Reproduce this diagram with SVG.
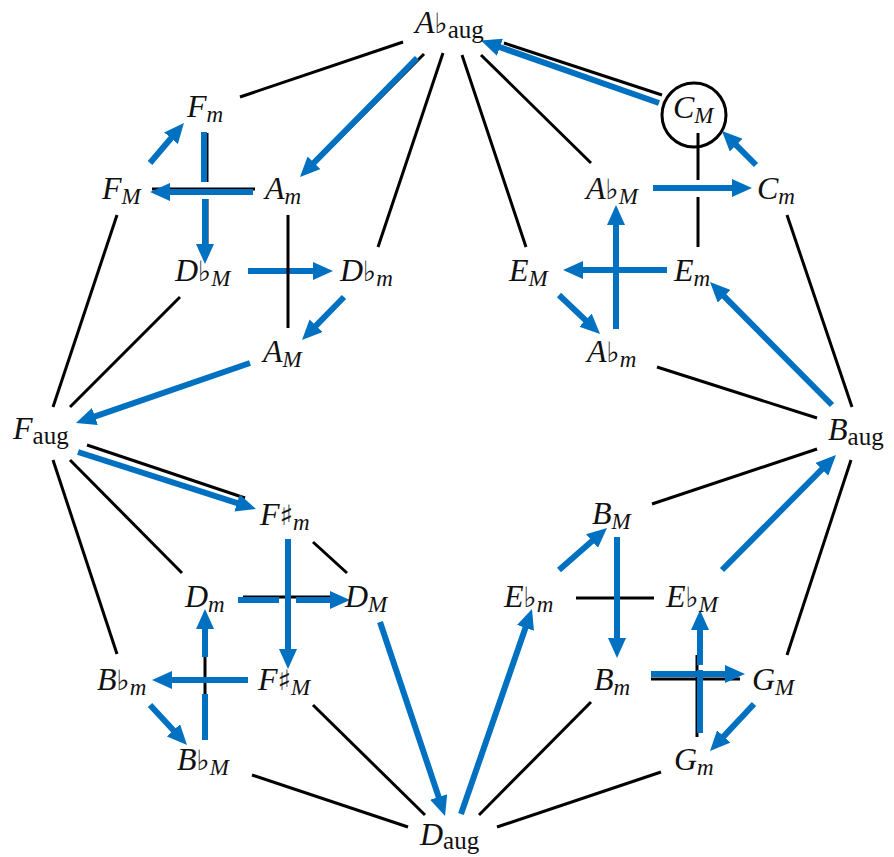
<svg xmlns="http://www.w3.org/2000/svg" width="894" height="857" viewBox="0 0 894 857">
<style>
.e{stroke:#000;stroke-width:3;fill:none}
.a{stroke:#0070C0;stroke-width:6;fill:none}
.lbl{font-family:"Liberation Serif","DejaVu Serif",serif;font-size:32px;fill:#111}
.i{font-style:italic}
.fl{font-family:"DejaVu Sans",sans-serif;font-size:28px;font-style:normal}
.s{font-style:italic;font-size:23px}
.r{font-style:normal;font-size:25px}
.ring{fill:none;stroke:#000;stroke-width:3}
</style>
<defs>
<marker id="ah" viewBox="0 0 20 18" refX="2" refY="9" markerWidth="20" markerHeight="18" markerUnits="userSpaceOnUse" orient="auto"><path d="M0,0 L20,9 L0,18 z" fill="#0070C0"/></marker>
</defs>
<rect width="894" height="857" fill="#fff"/>
<g id="connectors">
<line class="e" x1="240" y1="97" x2="403" y2="42"/>
<line class="e" x1="424" y1="54" x2="306" y2="172"/>
<line class="e" x1="443" y1="53" x2="378" y2="247"/>
<line class="e" x1="462" y1="55" x2="526" y2="247"/>
<line class="e" x1="481" y1="55" x2="591" y2="163"/>
<line class="e" x1="504" y1="43" x2="662" y2="95"/>
<line class="e" x1="53" y1="407" x2="117" y2="215"/>
<line class="e" x1="70" y1="407" x2="180" y2="297"/>
<line class="e" x1="87" y1="445" x2="245" y2="498"/>
<line class="e" x1="70" y1="460" x2="182" y2="573"/>
<line class="e" x1="53" y1="460" x2="117" y2="654"/>
<line class="e" x1="252" y1="775" x2="408" y2="827"/>
<line class="e" x1="313" y1="705" x2="425" y2="815"/>
<line class="e" x1="591" y1="702" x2="479" y2="815"/>
<line class="e" x1="661" y1="772" x2="497" y2="827"/>
<line class="e" x1="787" y1="215" x2="852" y2="407"/>
<line class="e" x1="657" y1="367" x2="817" y2="418"/>
<line class="e" x1="652" y1="504" x2="817" y2="449"/>
<line class="e" x1="851" y1="460" x2="787" y2="655"/>
<line class="e" x1="207" y1="133" x2="207" y2="182"/>
<line class="e" x1="207" y1="199" x2="207" y2="250"/>
<line class="e" x1="152" y1="189" x2="255" y2="189"/>
<line class="e" x1="698" y1="133" x2="698" y2="180"/>
<line class="e" x1="698" y1="197" x2="698" y2="247"/>
<line class="e" x1="313" y1="542" x2="347" y2="573"/>
<line class="e" x1="243" y1="597" x2="333" y2="597"/>
<line class="e" x1="205" y1="655" x2="205" y2="696"/>
<line class="e" x1="576" y1="598" x2="654" y2="598"/>
<line class="e" x1="651" y1="679" x2="740" y2="679"/>
<line class="e" x1="697" y1="655" x2="697" y2="737"/>

<line class="a" x1="417" y1="58" x2="312.6" y2="164.2" marker-end="url(#ah)"/>
<line class="a" x1="150" y1="163" x2="172.3" y2="136.7" marker-end="url(#ah)"/>
<line class="a" x1="204" y1="132" x2="204" y2="182"/>
<line class="a" x1="205" y1="199" x2="205" y2="246" marker-end="url(#ah)"/>
<line class="a" x1="253" y1="192" x2="168" y2="192" marker-end="url(#ah)"/>
<line class="a" x1="248" y1="271" x2="315" y2="271" marker-end="url(#ah)"/>
<line class="e" x1="288" y1="215" x2="288" y2="328"/>
<line class="a" x1="344" y1="297" x2="314.6" y2="327.1" marker-end="url(#ah)"/>
<line class="a" x1="250" y1="363" x2="93" y2="417.1" marker-end="url(#ah)"/>

<line class="a" x1="659" y1="103" x2="498" y2="46.5" marker-end="url(#ah)"/>
<line class="a" x1="653" y1="188" x2="734" y2="188" marker-end="url(#ah)"/>
<line class="a" x1="756" y1="165" x2="734.7" y2="143.7" marker-end="url(#ah)"/>
<line class="a" x1="667" y1="270" x2="581" y2="270" marker-end="url(#ah)"/>
<line class="a" x1="616" y1="329" x2="616" y2="223" marker-end="url(#ah)"/>
<line class="a" x1="559" y1="295" x2="587" y2="321.6" marker-end="url(#ah)"/>
<line class="a" x1="832" y1="405" x2="722.7" y2="294.8" marker-end="url(#ah)"/>

<line class="a" x1="78" y1="452" x2="238.9" y2="503.6" marker-end="url(#ah)"/>
<line class="a" x1="238" y1="600" x2="279" y2="600"/>
<line class="a" x1="296" y1="600" x2="332" y2="600" marker-end="url(#ah)"/>
<line class="a" x1="288" y1="539" x2="288" y2="651" marker-end="url(#ah)"/>
<line class="a" x1="205" y1="740" x2="205" y2="694"/>
<line class="a" x1="205" y1="657" x2="205" y2="627" marker-end="url(#ah)"/>
<line class="a" x1="248" y1="680" x2="170" y2="680" marker-end="url(#ah)"/>
<line class="a" x1="150" y1="705" x2="174.8" y2="731.8" marker-end="url(#ah)"/>
<line class="a" x1="380" y1="622" x2="439.3" y2="798.9" marker-end="url(#ah)"/>

<line class="a" x1="461" y1="814" x2="526.1" y2="626" marker-end="url(#ah)"/>
<line class="a" x1="559" y1="570" x2="593.5" y2="539.8" marker-end="url(#ah)"/>
<line class="a" x1="617" y1="537" x2="617" y2="640" marker-end="url(#ah)"/>
<line class="a" x1="722" y1="570" x2="823.3" y2="467.8" marker-end="url(#ah)"/>
<line class="a" x1="700" y1="733" x2="700" y2="670"/>
<line class="a" x1="700" y1="665" x2="700" y2="628" marker-end="url(#ah)"/>
<line class="a" x1="651" y1="674" x2="727" y2="674" marker-end="url(#ah)"/>
<line class="a" x1="754" y1="704" x2="722.3" y2="737.9" marker-end="url(#ah)"/>
</g>

<g id="n-Ab-aug"><text class="lbl" x="415" y="33"><tspan class="i">A</tspan><tspan class="fl">♭</tspan><tspan class="r" dy="5">aug</tspan></text></g>
<g id="n-C-M"><circle class="ring" cx="694" cy="115" r="32"/><text class="lbl" x="673" y="118"><tspan class="i">C</tspan><tspan class="s" dy="5">M</tspan></text></g>
<g id="n-F-m"><text class="lbl" x="187" y="117"><tspan class="i">F</tspan><tspan class="s" dy="5">m</tspan></text></g>
<g id="n-F-M"><text class="lbl" x="102" y="199"><tspan class="i">F</tspan><tspan class="s" dy="5">M</tspan></text></g>
<g id="n-A-m"><text class="lbl" x="265" y="199"><tspan class="i">A</tspan><tspan class="s" dy="5">m</tspan></text></g>
<g id="n-Db-M"><text class="lbl" x="175" y="281"><tspan class="i">D</tspan><tspan class="fl">♭</tspan><tspan class="s" dy="5">M</tspan></text></g>
<g id="n-Db-m"><text class="lbl" x="340" y="281"><tspan class="i">D</tspan><tspan class="fl">♭</tspan><tspan class="s" dy="5">m</tspan></text></g>
<g id="n-A-M"><text class="lbl" x="263" y="362"><tspan class="i">A</tspan><tspan class="s" dy="5">M</tspan></text></g>
<g id="n-Ab-M"><text class="lbl" x="586" y="199"><tspan class="i">A</tspan><tspan class="fl">♭</tspan><tspan class="s" dy="5">M</tspan></text></g>
<g id="n-C-m"><text class="lbl" x="757" y="199"><tspan class="i">C</tspan><tspan class="s" dy="5">m</tspan></text></g>
<g id="n-E-M"><text class="lbl" x="509" y="281"><tspan class="i">E</tspan><tspan class="s" dy="5">M</tspan></text></g>
<g id="n-E-m"><text class="lbl" x="674" y="281"><tspan class="i">E</tspan><tspan class="s" dy="5">m</tspan></text></g>
<g id="n-Ab-m"><text class="lbl" x="587" y="362"><tspan class="i">A</tspan><tspan class="fl">♭</tspan><tspan class="s" dy="5">m</tspan></text></g>
<g id="n-F-aug"><text class="lbl" x="13" y="439"><tspan class="i">F</tspan><tspan class="r" dy="5">aug</tspan></text></g>
<g id="n-B-aug"><text class="lbl" x="828" y="440"><tspan class="i">B</tspan><tspan class="r" dy="5">aug</tspan></text></g>
<g id="n-Fs-m"><text class="lbl" x="260" y="525"><tspan class="i">F</tspan><tspan class="fl">♯</tspan><tspan class="s" dy="5">m</tspan></text></g>
<g id="n-D-m"><text class="lbl" x="185" y="607"><tspan class="i">D</tspan><tspan class="s" dy="5">m</tspan></text></g>
<g id="n-D-M"><text class="lbl" x="345" y="607"><tspan class="i">D</tspan><tspan class="s" dy="5">M</tspan></text></g>
<g id="n-Bb-m"><text class="lbl" x="97" y="690"><tspan class="i">B</tspan><tspan class="fl">♭</tspan><tspan class="s" dy="5">m</tspan></text></g>
<g id="n-Fs-M"><text class="lbl" x="258" y="690"><tspan class="i">F</tspan><tspan class="fl">♯</tspan><tspan class="s" dy="5">M</tspan></text></g>
<g id="n-Bb-M"><text class="lbl" x="177" y="770"><tspan class="i">B</tspan><tspan class="fl">♭</tspan><tspan class="s" dy="5">M</tspan></text></g>
<g id="n-D-aug"><text class="lbl" x="420" y="845"><tspan class="i">D</tspan><tspan class="r" dy="4">aug</tspan></text></g>
<g id="n-B-M"><text class="lbl" x="592" y="524"><tspan class="i">B</tspan><tspan class="s" dy="5">M</tspan></text></g>
<g id="n-Eb-m"><text class="lbl" x="504" y="607"><tspan class="i">E</tspan><tspan class="fl">♭</tspan><tspan class="s" dy="5">m</tspan></text></g>
<g id="n-Eb-M"><text class="lbl" x="666" y="607"><tspan class="i">E</tspan><tspan class="fl">♭</tspan><tspan class="s" dy="5">M</tspan></text></g>
<g id="n-B-m"><text class="lbl" x="594" y="690"><tspan class="i">B</tspan><tspan class="s" dy="5">m</tspan></text></g>
<g id="n-G-M"><text class="lbl" x="752" y="690"><tspan class="i">G</tspan><tspan class="s" dy="5">M</tspan></text></g>
<g id="n-G-m"><text class="lbl" x="674" y="770"><tspan class="i">G</tspan><tspan class="s" dy="5">m</tspan></text></g>
</svg>
